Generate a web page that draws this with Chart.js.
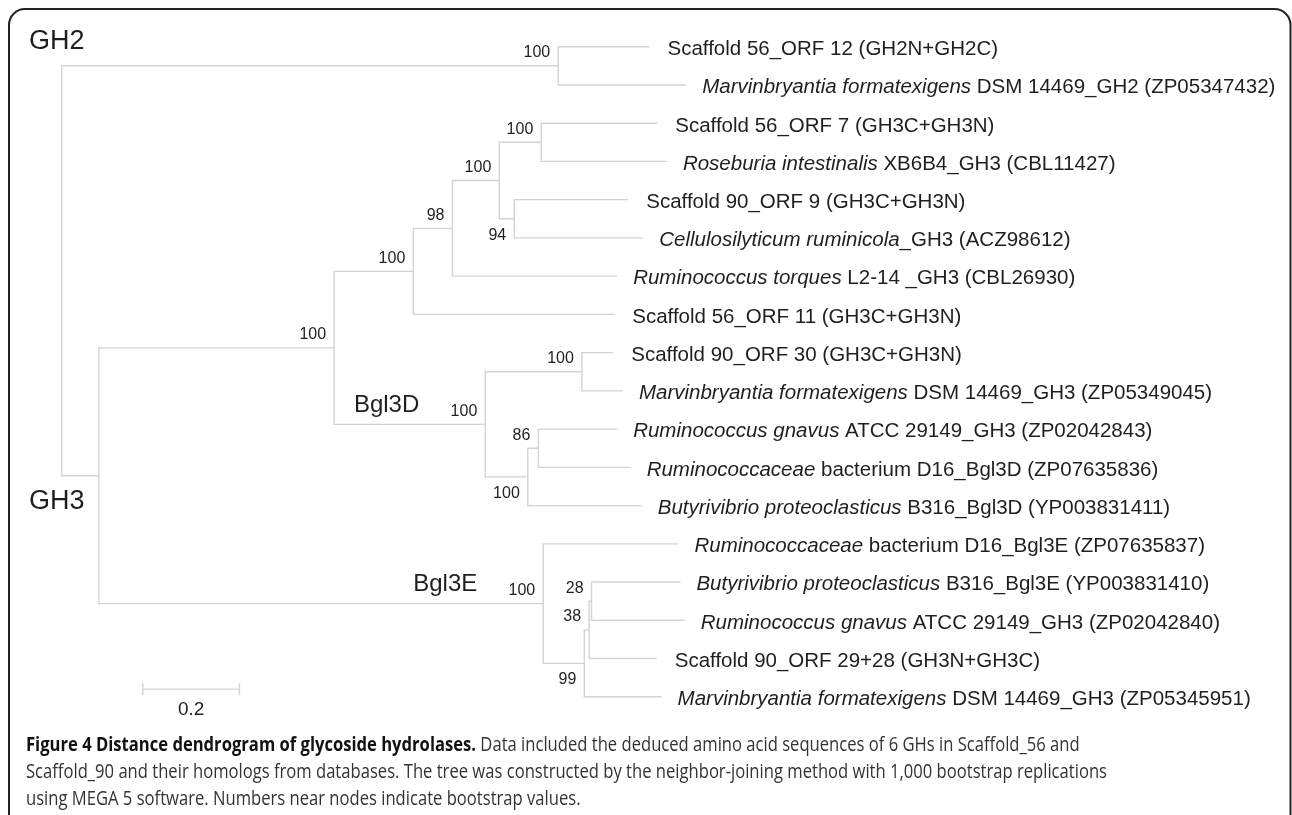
<!DOCTYPE html>
<html>
<head>
<meta charset="utf-8">
<title>Distance dendrogram of glycoside hydrolases</title>
<script src="https://cdn.jsdelivr.net/npm/chart.js@4/dist/chart.umd.min.js"></script>
<style>
  html, body { margin: 0; padding: 0; background: #ffffff; }
  #wrap { position: relative; width: 1292px; height: 815px; }
  canvas { display: block; }
</style>
</head>
<body>
<div id="wrap"><canvas id="tree" width="1292" height="815"></canvas></div>
<script>
// ---- tree data -------------------------------------------------------------
// Tip names, top to bottom: italic (species) part and plain part.
const leafItalic = [
  '', 'Marvinbryantia formatexigens', '', 'Roseburia intestinalis', '',
  'Cellulosilyticum ruminicola', 'Ruminococcus torques', '', '',
  'Marvinbryantia formatexigens', 'Ruminococcus gnavus', 'Ruminococcaceae',
  'Butyrivibrio proteoclasticus', 'Ruminococcaceae', 'Butyrivibrio proteoclasticus',
  'Ruminococcus gnavus', '', 'Marvinbryantia formatexigens'
];
const leafPlain = [
  'Scaffold 56_ORF 12 (GH2N+GH2C)', ' DSM 14469_GH2 (ZP05347432)',
  'Scaffold 56_ORF 7 (GH3C+GH3N)', ' XB6B4_GH3 (CBL11427)',
  'Scaffold 90_ORF 9 (GH3C+GH3N)', '_GH3 (ACZ98612)', ' L2-14 _GH3 (CBL26930)',
  'Scaffold 56_ORF 11 (GH3C+GH3N)', 'Scaffold 90_ORF 30 (GH3C+GH3N)',
  ' DSM 14469_GH3 (ZP05349045)', ' ATCC 29149_GH3 (ZP02042843)',
  ' bacterium D16_Bgl3D (ZP07635836)', ' B316_Bgl3D (YP003831411)',
  ' bacterium D16_Bgl3E (ZP07635837)', ' B316_Bgl3E (YP003831410)',
  ' ATCC 29149_GH3 (ZP02042840)', 'Scaffold 90_ORF 29+28 (GH3N+GH3C)',
  ' DSM 14469_GH3 (ZP05345951)'
];
// Distance from the root to each tip.
const leafDepth = [
  1.217, 1.293, 1.233, 1.253, 1.173, 1.204, 1.150, 1.144, 1.142,
  1.162, 1.150, 1.178, 1.201, 1.277, 1.281, 1.290, 1.232, 1.242
];
// Internal nodes in post-order: children ('L' = tip, 'N' = node), depth, bootstrap.
const nodeChildren = [
  ['L0', 'L1'], ['L2', 'L3'], ['L4', 'L5'], ['N1', 'N2'], ['N3', 'L6'],
  ['N4', 'L7'], ['L8', 'L9'], ['L10', 'L11'], ['N7', 'L12'], ['N6', 'N8'],
  ['N5', 'N9'], ['L14', 'L15'], ['N11', 'L16'], ['N12', 'L17'], ['L13', 'N13'],
  ['N10', 'N14'], ['N0', 'N15']
];
const nodeDepth = [
  1.028, 0.993, 0.937, 0.906, 0.809, 0.728, 1.077, 0.987, 0.965, 0.877,
  0.564, 1.097, 1.092, 1.082, 0.997, 0.077, 0
];
const bootstrap = [100, 100, 94, 100, 98, 100, 100, 86, 100, 100, 100, 28, 38, 99, 100, null, null];
// Clade names and the node each one marks.
const groupNames = ['GH2', 'GH3', 'Bgl3D', 'Bgl3E'];
const groupNodes = [0, 15, 9, 14];
const scaleBarLength = 0.2;
const scaleBarLabel = '0.2';

const captionTitle = 'Figure 4 Distance dendrogram of glycoside hydrolases.';
const captionLines = [
  ' Data included the deduced amino acid sequences of 6 GHs in Scaffold_56 and',
  'Scaffold_90 and their homologs from databases. The tree was constructed by the neighbor-joining method with 1,000 bootstrap replications',
  'using MEGA 5 software. Numbers near nodes indicate bootstrap values.'
];

// ---- layout derived from the tree ------------------------------------------
const nodeY = [];
function ref(code) {
  const i = +code.slice(1);
  return code[0] === 'L' ? { d: leafDepth[i], y: i } : { d: nodeDepth[i], y: nodeY[i] };
}
nodeChildren.forEach((ch, i) => { nodeY[i] = (ref(ch[0]).y + ref(ch[1]).y) / 2; });

const BRANCH = '#d4d4d4';
const INK = '#1f1f1f';
const TREE_FONT = '"Liberation Sans", Arial, Helvetica, sans-serif';
const CAP = 0.716;

// One elbow path per internal node (root included: it has no stem).
const datasets = nodeChildren.map((ch, i) => {
  const a = ref(ch[0]), b = ref(ch[1]);
  return {
    data: [
      { x: a.d, y: a.y }, { x: nodeDepth[i], y: a.y },
      { x: nodeDepth[i], y: b.y }, { x: b.d, y: b.y }
    ],
    showLine: true, borderColor: BRANCH, borderWidth: 1.4,
    pointRadius: 0, pointHoverRadius: 0, fill: false, tension: 0
  };
});

// where each bootstrap value sits beside its node
const bootSide = ['top', 'top', 'down', 'up', 'up', 'up', 'top', 'top', 'down', 'up',
                  'up', 'top', 'up', 'down', 'up', null, null];

function textAt(ctx, str, x, cy, px, align) {
  ctx.textAlign = align || 'left';
  ctx.textBaseline = 'alphabetic';
  ctx.fillText(str, x, cy + px * CAP / 2);
}

const annotate = {
  id: 'annotate',
  beforeDraw(chart) {
    const ctx = chart.ctx;
    ctx.save();
    ctx.fillStyle = '#ffffff';
    ctx.fillRect(0, 0, chart.width, chart.height);
    ctx.restore();
  },
  afterDatasetsDraw(chart) {
    const ctx = chart.ctx;
    const xs = chart.scales.x, ys = chart.scales.y;
    ctx.save();
    ctx.fillStyle = INK;

    // tip labels
    const LEAF_PX = 20.5;
    leafPlain.forEach((plain, i) => {
      const it = leafItalic[i];
      let x = xs.getPixelForValue(leafDepth[i]) + (it ? 16 : 18);
      const cy = ys.getPixelForValue(i) + 1;
      if (it) {
        ctx.font = 'italic ' + LEAF_PX + 'px ' + TREE_FONT;
        textAt(ctx, it, x, cy, LEAF_PX);
        x += ctx.measureText(it).width;
      }
      ctx.font = LEAF_PX + 'px ' + TREE_FONT;
      textAt(ctx, plain, x, cy, LEAF_PX);
    });

    // bootstrap values
    const BS_PX = 16;
    ctx.font = BS_PX + 'px ' + TREE_FONT;
    bootstrap.forEach((v, i) => {
      if (v === null) return;
      const x = xs.getPixelForValue(nodeDepth[i]) - 8;
      const top = ref(nodeChildren[i][0]).y;
      let cy;
      if (bootSide[i] === 'top') cy = ys.getPixelForValue(top) + 5;
      else if (bootSide[i] === 'up') cy = ys.getPixelForValue(nodeY[i]) - 14.5;
      else cy = ys.getPixelForValue(nodeY[i]) + 15;
      textAt(ctx, String(v), x, cy, BS_PX, 'right');
    });

    // clade names
    groupNames.forEach((name, g) => {
      const n = groupNodes[g];
      const by = ys.getPixelForValue(nodeY[n]);
      if (g < 2) {
        const px = 27;
        ctx.font = px + 'px ' + TREE_FONT;
        textAt(ctx, name, 29, g === 0 ? by - 26 : by + 24, px, 'left');
      } else {
        const px = 24;
        ctx.font = px + 'px ' + TREE_FONT;
        textAt(ctx, name, xs.getPixelForValue(nodeDepth[n]) - 66, by - 21, px, 'right');
      }
    });

    // scale bar
    const sx0 = xs.getPixelForValue(0.168);
    const sx1 = xs.getPixelForValue(0.168 + scaleBarLength);
    const sy = ys.getPixelForValue(16.8);
    ctx.strokeStyle = BRANCH;
    ctx.lineWidth = 1.4;
    ctx.beginPath();
    ctx.moveTo(sx0, sy); ctx.lineTo(sx1, sy);
    ctx.moveTo(sx0, sy - 6); ctx.lineTo(sx0, sy + 6);
    ctx.moveTo(sx1, sy - 6); ctx.lineTo(sx1, sy + 6);
    ctx.stroke();
    ctx.font = '19px ' + TREE_FONT;
    textAt(ctx, scaleBarLabel, (sx0 + sx1) / 2, sy + 19, 19, 'center');

    // caption, set slightly condensed
    const CAP_PX = 20;
    const boldFont = 'bold ' + CAP_PX + 'px "Open Sans", sans-serif';
    const bodyFont = CAP_PX + 'px "Open Sans", sans-serif';
    ctx.font = bodyFont;
    const squeeze = 1081 / ctx.measureText(captionLines[1]).width;
    const baselines = [751, 778, 805];
    baselines.forEach((by, li) => {
      ctx.save();
      ctx.translate(26, by);
      ctx.scale(squeeze, 1);
      ctx.textAlign = 'left';
      ctx.textBaseline = 'alphabetic';
      let x = 0;
      if (li === 0) {
        ctx.font = boldFont;
        ctx.fillStyle = '#111111';
        ctx.fillText(captionTitle, 0, 0);
        x = ctx.measureText(captionTitle).width;
      }
      ctx.font = bodyFont;
      ctx.fillStyle = '#333333';
      ctx.fillText(captionLines[li], x, 0);
      ctx.restore();
    });

    // frame
    ctx.strokeStyle = '#222222';
    ctx.lineWidth = 2;
    const L = 9, T = 9, R = 1290.5, B = 840, r = 16;
    ctx.beginPath();
    ctx.moveTo(L, B);
    ctx.lineTo(L, T + r);
    ctx.arcTo(L, T, L + r, T, r);
    ctx.lineTo(R - r, T);
    ctx.arcTo(R, T, R, T + r, r);
    ctx.lineTo(R, B);
    ctx.stroke();
    ctx.restore();
  }
};

function build() {
  new Chart(document.getElementById('tree'), {
    type: 'scatter',
    data: { datasets },
    options: {
      responsive: false,
      animation: false,
      events: [],
      layout: { padding: 0 },
      plugins: { legend: { display: false }, tooltip: { enabled: false }, title: { display: false } },
      scales: {
        x: { type: 'linear', display: false, min: -0.1277, max: 2.5472 },
        y: { type: 'linear', display: false, reverse: true, min: -1.2212, max: 20.091 }
      }
    },
    plugins: [annotate]
  });
}

const fontLoads = [
  '20px "Liberation Sans"', 'italic 20px "Liberation Sans"',
  '20px "Open Sans"', 'bold 20px "Open Sans"'
].map(f => document.fonts.load(f).catch(() => null));
Promise.all(fontLoads).then(build, build);
</script>
</body>
</html>
